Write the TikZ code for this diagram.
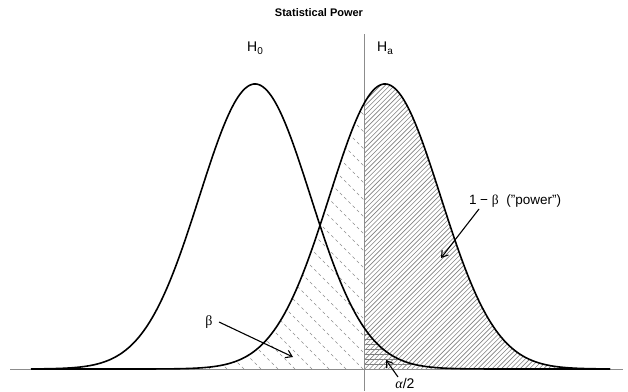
\documentclass[tikz,border=0pt]{standalone}
\usepackage{fontspec}
\setmainfont{Liberation Sans}
\newfontfamily\grk{Liberation Serif}
\usetikzlibrary{arrows.meta}
\newcommand\hlab[1]{H\raisebox{-0.4ex}{\fontsize{10}{10}\selectfont #1}}
\tikzset{
  curve/.style={line width=1.6pt, black, line join=round},
  refline/.style={line width=0.9pt, black!45},
  powhatch/.style={line width=0.6pt, black!50},
  alphahatch/.style={line width=0.6pt, black!50},
  betahatch/.style={line width=0.6pt, black!45, dash pattern=on 3pt off 3pt},
  arr/.style={line width=1.1pt, -{Straight Barb[length=6pt,width=8pt]}},
  lab/.style={font=\fontsize{14}{16}\selectfont, inner sep=1pt},
  declare function={dn(\x,\m)=285*exp(-0.5*((\x-\m)/55.5)*((\x-\m)/55.5));}
}
\begin{document}
\begin{tikzpicture}[x=1pt,y=-1pt]
\useasboundingbox (0,0) rectangle (628,391);
% power region hatch
\begin{scope}
\clip (364,369) -- plot[domain=364:612,samples=150] (\x,{369-dn(\x,385)}) -- (612,369) -- cycle;
\foreach \i in {0,...,115} { \draw[powhatch] (64+\i*4.7,369) -- ++(300,-300); }
\end{scope}
% alpha/2 region hatch
\begin{scope}
\clip (364,369) -- plot[domain=364:612,samples=150] (\x,{369-dn(\x,255)}) -- (612,369) -- cycle;
\foreach \k in {1,...,9} { \draw[alphahatch] (364,369-\k*5) -- (612,369-\k*5); }
\end{scope}
% beta region hatch
\begin{scope}
\clip (31,369) -- plot[domain=31:364,samples=150] (\x,{369-dn(\x,385)}) -- (364,369) -- cycle;
\foreach \i in {0,...,40} { \draw[betahatch] (40+\i*17,369) -- ++(-300,-300); }
\end{scope}
% reference lines
\draw[refline] (10,369) -- (623,369);
\draw[refline] (364,34) -- (364,391);
% density curves
\draw[curve] plot[domain=31:610,samples=300] (\x,{369-dn(\x,255)});
\draw[curve] plot[domain=31:610,samples=300] (\x,{369-dn(\x,385)});
% labels
\node[font=\bfseries\fontsize{11}{13}\selectfont] (title) at (319,13) {Statistical Power};
\node[lab] (h0) at (255,48) {\hlab{0}};
\node[lab] (ha) at (385,48) {\hlab{a}};
\node[lab, font=\fontsize{13.5}{16}\selectfont] (power) at (515,201) {1 − {\grk β}\ \ ("power")};
\node[lab] (beta) at (209,322) {\grk β};
\node[lab] (alpha) at (405,383) {{\grk\itshape α}/2};
% arrows
\coordinate (powstart) at (479,209);
\coordinate (powtip) at (441,258);
\coordinate (betastart) at (219,322);
\coordinate (betatip) at (293,357);
\coordinate (alphastart) at (398,377);
\coordinate (alphatip) at (386,360);
\draw[arr] (powstart) -- (powtip);
\draw[arr] (betastart) -- (betatip);
\draw[arr] (alphastart) -- (alphatip);
\end{tikzpicture}
\end{document}
